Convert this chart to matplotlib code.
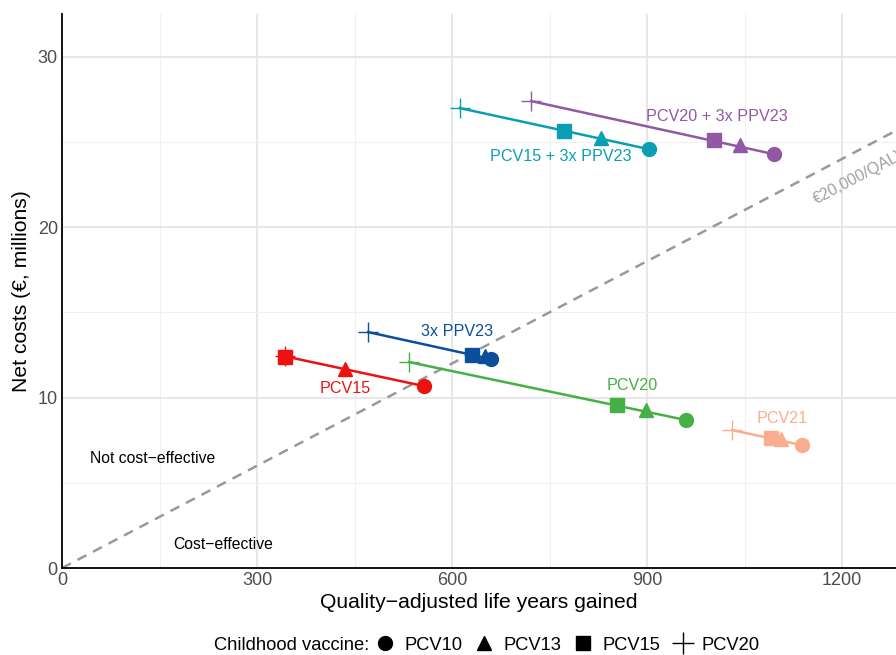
import matplotlib.pyplot as plt
from matplotlib.lines import Line2D

plt.rcParams["font.family"] = ["Liberation Sans", "DejaVu Sans"]

# strategies and their points (PCV10, PCV13, PCV15, PCV20 childhood vaccine)
strategies = ["PCV15", "3x PPV23", "PCV20", "PCV21", "PCV15 + 3x PPV23", "PCV20 + 3x PPV23"]
colors = ["#EE1111", "#0B4F9C", "#45B045", "#FBAD8F", "#0A9EB5", "#9158A4"]

qaly = {
    "PCV15": [557, 435, 343, 343],
    "3x PPV23": [660, 651, 631, 471],
    "PCV20": [960, 898, 854, 534],
    "PCV21": [1138, 1106, 1091, 1031],
    "PCV15 + 3x PPV23": [903, 829, 772, 612],
    "PCV20 + 3x PPV23": [1095, 1043, 1003, 722],
}
costs = {
    "PCV15": [10.67, 11.67, 12.38, 12.42],
    "3x PPV23": [12.26, 12.43, 12.5, 13.84],
    "PCV20": [8.68, 9.27, 9.56, 12.08],
    "PCV21": [7.21, 7.57, 7.62, 8.09],
    "PCV15 + 3x PPV23": [24.57, 25.22, 25.63, 26.98],
    "PCV20 + 3x PPV23": [24.28, 24.81, 25.1, 27.39],
}
label_pos = {
    "PCV15": (435, 10.56),
    "3x PPV23": (608, 13.9),
    "PCV20": (878, 10.73),
    "PCV21": (1108, 8.8),
    "PCV15 + 3x PPV23": (768, 24.16),
    "PCV20 + 3x PPV23": (1008, 26.5),
}
childhood = ["PCV10", "PCV13", "PCV15", "PCV20"]
markers = ["o", "^", "s", "+"]
threshold = 0.02  # million € per QALY

fig = plt.figure(figsize=(8.96, 6.55), dpi=100)
ax = fig.add_axes([0.0692, 0.1328, 0.9308, 0.8458])
ax.set_xlim(0, 1283)
ax.set_ylim(0, 32.5)

# grid
for v in [150, 450, 750, 1050]:
    ax.axvline(v, color="#F0F0F0", lw=0.8, zorder=0)
for v in [300, 600, 900, 1200]:
    ax.axvline(v, color="#E5E5E5", lw=1.3, zorder=0)
for v in [5, 15, 25]:
    ax.axhline(v, color="#F0F0F0", lw=0.8, zorder=0)
for v in [10, 20, 30]:
    ax.axhline(v, color="#E5E5E5", lw=1.3, zorder=0)

# threshold line
ax.plot([0, 1300], [0, 1300 * threshold], ls=(0, (4, 3)), color="#999999", lw=1.8, zorder=1)
ax.text(1228, 23.0, "€20,000/QALY", rotation=27.7, rotation_mode="anchor",
        ha="center", va="center", color="#A0A0A0", fontsize=11.5, clip_on=True)

for s, c in zip(strategies, colors):
    xs, ys = qaly[s], costs[s]
    ax.plot([xs[3], xs[0]], [ys[3], ys[0]], color=c, lw=1.8, zorder=2)
    for i, m in enumerate(markers):
        if m == "+":
            ax.plot(xs[i], ys[i], marker=m, color=c, ms=14, mew=1, zorder=3)
        else:
            ax.plot(xs[i], ys[i], marker=m, color=c, ms=10 if m != "s" else 9.5, ls="none", zorder=3)
    lx, ly = label_pos[s]
    ax.text(lx, ly, s, color=c, fontsize=11.6, ha="center", va="center")

ax.text(43, 6.45, "Not cost−effective", fontsize=11.3, ha="left", va="center")
ax.text(171, 1.4, "Cost−effective", fontsize=11.3, ha="left", va="center")

ax.set_xticks([0, 300, 600, 900, 1200])
ax.set_yticks([0, 10, 20, 30])
ax.tick_params(length=0, labelsize=13, labelcolor="#4D4D4D", pad=3)
for sp in ["top", "right"]:
    ax.spines[sp].set_visible(False)
for sp in ["left", "bottom"]:
    ax.spines[sp].set_linewidth(1.3)
ax.set_xlabel("Quality−adjusted life years gained", fontsize=15.2, labelpad=3)
ax.set_ylabel("Net costs (€, millions)", fontsize=15.2, labelpad=5)

# legend: title as plain text, entries next to it
fig.text(214 / 896, 1 - 645 / 655, "Childhood vaccine:", fontsize=13.2, ha="left", va="center")
handles = [Line2D([], [], marker=m, color="black", ls="none",
                  ms=16 if m == "+" else 10, mew=1)
           for m in markers]
fig.legend(handles, childhood, loc="center left", bbox_to_anchor=(375 / 896, 1 - 645 / 655),
           ncol=4, frameon=False, fontsize=13.2, handlelength=1.1,
           handletextpad=0.5, columnspacing=0.65, borderpad=0, borderaxespad=0)

fig.savefig("out.png", dpi=100)
